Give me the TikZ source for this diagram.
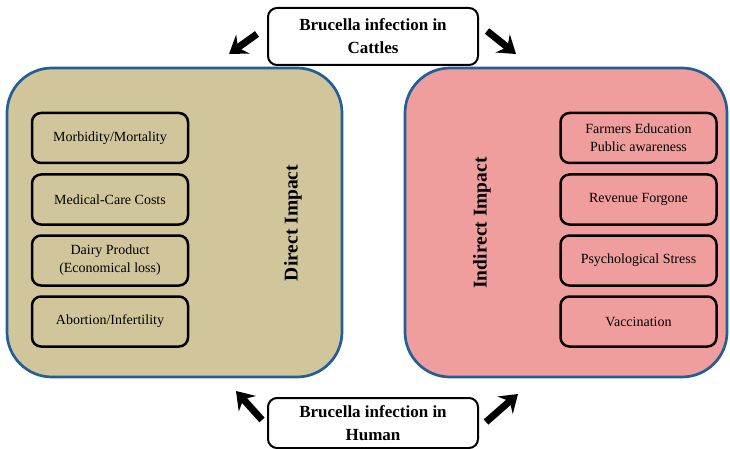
\documentclass[tikz,border=0pt]{standalone}
\usepackage{fontspec}
\setmainfont{Liberation Serif}
\usetikzlibrary{arrows.meta}
\definecolor{tanfill}{RGB}{209,197,155}
\definecolor{pinkfill}{RGB}{240,157,157}
\definecolor{rimblue}{RGB}{36,94,148}
\tikzset{
    bigbox/.style={draw=rimblue, line width=2.7pt, rounded corners=45pt,
        minimum height=309pt, inner sep=0pt},
    itembox/.style={draw, line width=2.5pt, rounded corners=9pt, minimum width=156pt,
        minimum height=50pt, align=center, inner sep=0pt, font=\fontsize{14}{18}\selectfont},
    sourcebox/.style={draw, line width=2pt, rounded corners=9pt, minimum width=210pt,
        align=center, inner sep=0pt, font=\bfseries\fontsize{17}{23}\selectfont},
    sidelabel/.style={rotate=90, font=\bfseries\fontsize{19.5}{22}\selectfont},
    fatarrow/.style={line width=7pt, -{Stealth[length=17pt,width=23pt,inset=6pt]}}
}
\begin{document}
\begin{tikzpicture}[x=1pt, y=-1pt]
    \useasboundingbox (0,0) rectangle (730,449);

    % the two impact panels
    \node[bigbox, fill=tanfill, minimum width=335pt] (direct) at (174.5,222.5) {};
    \node[bigbox, fill=pinkfill, minimum width=322pt] (indirect) at (566,222.5) {};

    \node[sidelabel] (dlabel) at (293,223) {Direct Impact};
    \node[sidelabel] (ilabel) at (482,223) {Indirect Impact};

    % direct impact items
    \node[itembox] (morb) at (110,138) {Morbidity/Mortality};
    \node[itembox] (care) at (110,199.5) {Medical-Care Costs};
    \node[itembox] (dairy) at (110,260.5) {Dairy Product\\(Economical loss)};
    \node[itembox] (abort) at (110,321.5) {Abortion/Infertility};

    % indirect impact items
    \node[itembox] (educ) at (638.5,138) {Farmers Education\\Public awareness};
    \node[itembox] (revenue) at (638.5,199.5) {Revenue Forgone};
    \node[itembox] (stress) at (638.5,260.5) {Psychological Stress};
    \node[itembox] (vacc) at (638.5,321.5) {Vaccination};

    % sources of infection
    \node[sourcebox, minimum height=57pt] (cattle) at (373,36.5) {Brucella infection in\\Cattles};
    \node[sourcebox, minimum height=50pt] (human) at (373,423) {Brucella infection in\\Human};

    \coordinate (ctl) at (257,34);
    \coordinate (ctltip) at (229,54);
    \coordinate (ctr) at (487,31);
    \coordinate (ctrtip) at (516,54);
    \coordinate (hul) at (262,420);
    \coordinate (hultip) at (236,391);
    \coordinate (hur) at (486,422);
    \coordinate (hurtip) at (518,394);

    \draw[fatarrow] (ctl) -- (ctltip);
    \draw[fatarrow] (ctr) -- (ctrtip);
    \draw[fatarrow] (hul) -- (hultip);
    \draw[fatarrow] (hur) -- (hurtip);
\end{tikzpicture}
\end{document}
